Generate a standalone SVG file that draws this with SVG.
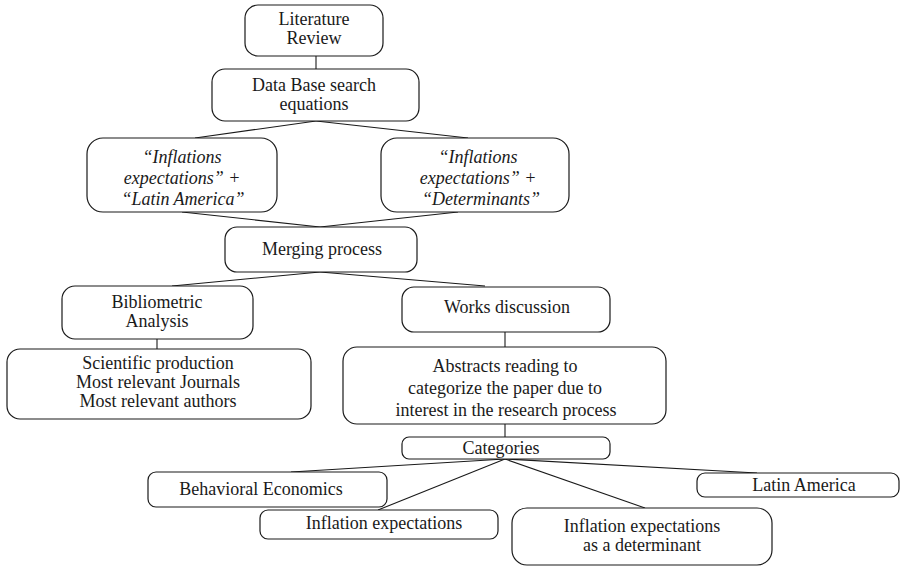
<svg xmlns="http://www.w3.org/2000/svg" width="901" height="566" viewBox="0 0 901 566">
<style>
  .box { fill: #ffffff; stroke: #1a1a1a; stroke-width: 1.2; }
  .t { font-family: "Liberation Serif", "Times New Roman", serif; font-size: 18px; fill: #1a1a1a; text-anchor: middle; }
  .i { font-style: italic; }
  .c { stroke: #1a1a1a; stroke-width: 1.1; fill: none; }
</style>
<rect width="901" height="566" fill="#ffffff"/>
<g id="connectors">
  <line class="c" x1="316" y1="56" x2="316" y2="69"/>
  <line class="c" x1="316" y1="121" x2="195" y2="138"/>
  <line class="c" x1="316" y1="121" x2="468" y2="138"/>
  <line class="c" x1="182" y1="212" x2="320" y2="227"/>
  <line class="c" x1="458" y1="212" x2="320" y2="227"/>
  <line class="c" x1="320" y1="272" x2="172" y2="286"/>
  <line class="c" x1="320" y1="272" x2="485" y2="286"/>
  <line class="c" x1="157" y1="339" x2="157" y2="349"/>
  <line class="c" x1="505" y1="332" x2="505" y2="347"/>
  <line class="c" x1="505" y1="424" x2="505" y2="437"/>
  <line class="c" x1="505" y1="459" x2="291" y2="472"/>
  <line class="c" x1="505" y1="459" x2="378" y2="510"/>
  <line class="c" x1="505" y1="459" x2="645" y2="508"/>
  <line class="c" x1="505" y1="459" x2="757" y2="473"/>
</g>
<g id="literature-review">
  <rect class="box" x="245" y="5" width="138" height="51" rx="13"/>
  <text class="t" x="314" y="25">Literature</text>
  <text class="t" x="314" y="44">Review</text>
</g>
<g id="database-search">
  <rect class="box" x="212" y="69" width="207" height="52" rx="13"/>
  <text class="t" x="314" y="91">Data Base search</text>
  <text class="t" x="314" y="110">equations</text>
</g>
<g id="search-latam">
  <rect class="box" x="87" y="138" width="190" height="74" rx="16"/>
  <text class="t i" x="182" y="163">“Inflations</text>
  <text class="t i" x="182" y="184">expectations” +</text>
  <text class="t i" x="183" y="205">“Latin America”</text>
</g>
<g id="search-determinants">
  <rect class="box" x="381" y="138" width="188" height="74" rx="16"/>
  <text class="t i" x="478" y="163">“Inflations</text>
  <text class="t i" x="478" y="184">expectations” +</text>
  <text class="t i" x="481" y="205">“Determinants”</text>
</g>
<g id="merging">
  <rect class="box" x="225" y="227" width="192" height="45" rx="12"/>
  <text class="t" x="322" y="255">Merging process</text>
</g>
<g id="bibliometric">
  <rect class="box" x="62" y="286" width="191" height="53" rx="13"/>
  <text class="t" x="157" y="308">Bibliometric</text>
  <text class="t" x="157" y="327">Analysis</text>
</g>
<g id="works-discussion">
  <rect class="box" x="402" y="287" width="208" height="45" rx="12"/>
  <text class="t" x="507" y="313">Works discussion</text>
</g>
<g id="bibliometric-results">
  <rect class="box" x="7" y="349" width="304" height="70" rx="13"/>
  <text class="t" x="158" y="369">Scientific production</text>
  <text class="t" x="158" y="388">Most relevant Journals</text>
  <text class="t" x="158" y="407">Most relevant authors</text>
</g>
<g id="abstracts-reading">
  <rect class="box" x="343" y="347" width="323" height="77" rx="14"/>
  <text class="t" x="505" y="372">Abstracts reading to</text>
  <text class="t" x="505" y="394">categorize the paper due to</text>
  <text class="t" x="506" y="416">interest in the research process</text>
</g>
<g id="categories">
  <rect class="box" x="402" y="437" width="208" height="22" rx="7"/>
  <text class="t" x="501" y="454">Categories</text>
</g>
<g id="behavioral-economics">
  <rect class="box" x="148" y="472" width="239" height="35" rx="8"/>
  <text class="t" x="261" y="495">Behavioral Economics</text>
</g>
<g id="inflation-expectations">
  <rect class="box" x="260" y="510" width="238" height="29" rx="8"/>
  <text class="t" x="384" y="529">Inflation expectations</text>
</g>
<g id="inflation-determinant">
  <rect class="box" x="512" y="508" width="260" height="57" rx="15"/>
  <text class="t" x="642" y="532">Inflation expectations</text>
  <text class="t" x="642" y="551">as a determinant</text>
</g>
<g id="latin-america">
  <rect class="box" x="697" y="473" width="202" height="24" rx="8"/>
  <text class="t" x="804" y="491">Latin America</text>
</g>
</svg>
